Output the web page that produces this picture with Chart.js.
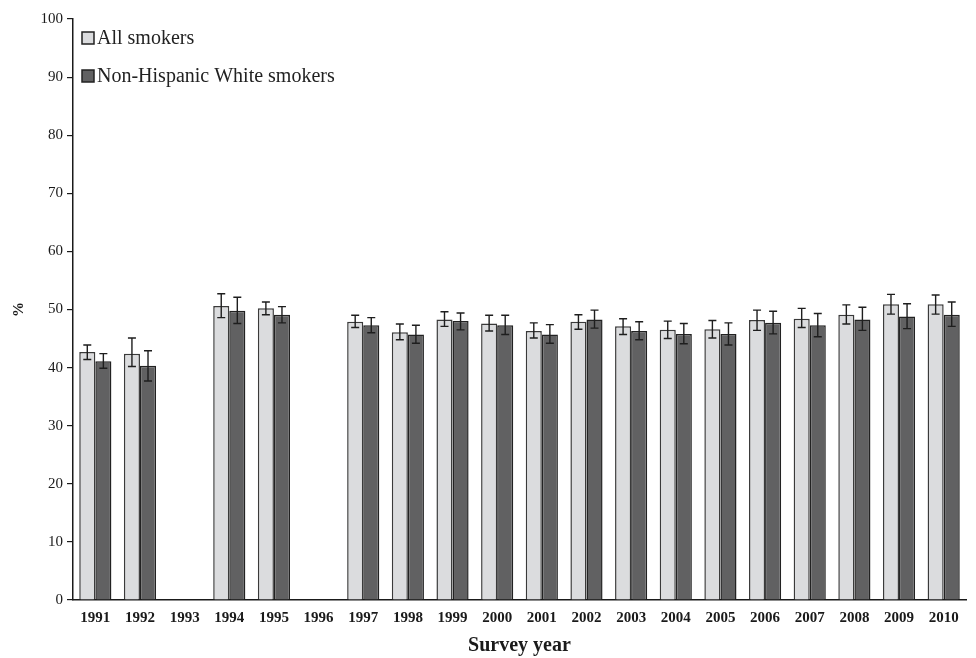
<!DOCTYPE html>
<html>
<head>
<meta charset="utf-8">
<script src="https://cdn.jsdelivr.net/npm/chart.js@4"></script>
<style>
  html, body { margin: 0; padding: 0; background: #ffffff; }
  #wrap { width: 976px; height: 658px; }
</style>
</head>
<body>
<div id="wrap"><canvas id="c" width="976" height="658"></canvas></div>
<script>
const years = ['1991','1992','1993','1994','1995','1996','1997','1998','1999','2000','2001','2002','2003','2004','2005','2006','2007','2008','2009','2010'];
const allSmokers = [42.7, 42.4, null, 50.6, 50.2, null, 47.9, 46.1, 48.3, 47.6, 46.3, 47.9, 47.1, 46.5, 46.6, 48.2, 48.4, 49.1, 50.9, 50.9];
const allLower   = [41.4, 40.2, null, 48.6, 49.1, null, 46.9, 44.8, 47.1, 46.3, 45.1, 46.6, 45.7, 45.0, 45.1, 46.4, 46.9, 47.5, 49.2, 49.2];
const allUpper   = [43.9, 45.1, null, 52.7, 51.3, null, 49.0, 47.5, 49.6, 49.0, 47.7, 49.1, 48.4, 48.0, 48.1, 49.9, 50.2, 50.8, 52.6, 52.5];
const nhwSmokers = [41.1, 40.3, null, 49.8, 49.1, null, 47.3, 45.7, 48.0, 47.3, 45.7, 48.3, 46.3, 45.8, 45.8, 47.7, 47.3, 48.3, 48.8, 49.1];
const nhwLower   = [39.9, 37.7, null, 47.6, 47.7, null, 46.0, 44.2, 46.5, 45.7, 44.2, 46.8, 44.8, 44.1, 43.9, 45.8, 45.3, 46.4, 46.7, 47.1];
const nhwUpper   = [42.4, 42.9, null, 52.1, 50.5, null, 48.6, 47.3, 49.4, 49.0, 47.4, 49.9, 47.9, 47.6, 47.7, 49.7, 49.3, 50.4, 51.0, 51.3];
const yTicks = [0, 10, 20, 30, 40, 50, 60, 70, 80, 90, 100];
const seriesLabels = ['All smokers', 'Non-Hispanic White smokers'];

const errorBars = {
  id: 'errorBars',
  afterDatasetsDraw(chart) {
    const ctx = chart.ctx;
    const ys = chart.scales.y;
    chart.data.datasets.forEach((ds, di) => {
      const meta = chart.getDatasetMeta(di);
      meta.data.forEach((bar, i) => {
        const lo = ds.errLower[i], hi = ds.errUpper[i];
        if (lo == null || hi == null) return;
        const x = bar.x;
        const y1 = ys.getPixelForValue(lo), y2 = ys.getPixelForValue(hi);
        ctx.save();
        ctx.strokeStyle = '#1e1e1e';
        ctx.lineWidth = 1.4;
        ctx.beginPath();
        ctx.moveTo(x, y1); ctx.lineTo(x, y2);
        ctx.moveTo(x - 4, y1); ctx.lineTo(x + 4, y1);
        ctx.moveTo(x - 4, y2); ctx.lineTo(x + 4, y2);
        ctx.stroke();
        ctx.restore();
      });
    });
  }
};

const customLegend = {
  id: 'customLegend',
  afterDraw(chart) {
    const ctx = chart.ctx;
    const left = chart.chartArea.left + 9;
    const rows = [38, 76];
    chart.data.datasets.forEach((ds, di) => {
      const cy = rows[di];
      ctx.save();
      ctx.fillStyle = ds.backgroundColor;
      ctx.strokeStyle = '#222222';
      ctx.lineWidth = 1.5;
      ctx.fillRect(left, cy - 6, 12, 12);
      ctx.strokeRect(left, cy - 6, 12, 12);
      ctx.fillStyle = '#222222';
      ctx.font = '20px "Liberation Serif", "Times New Roman", serif';
      ctx.textBaseline = 'middle';
      ctx.textAlign = 'left';
      ctx.fillText(ds.label, left + 15, cy + 1);
      ctx.restore();
    });
  }
};

new Chart(document.getElementById('c'), {
  type: 'bar',
  data: {
    labels: years,
    datasets: [
      { label: seriesLabels[0], data: allSmokers, errLower: allLower, errUpper: allUpper,
        backgroundColor: '#dbdcde', borderColor: '#3a3a3a', borderWidth: 1.5,
        categoryPercentage: 0.72, barPercentage: 1.0 },
      { label: seriesLabels[1], data: nhwSmokers, errLower: nhwLower, errUpper: nhwUpper,
        backgroundColor: '#616162', borderColor: '#222222', borderWidth: 1.5,
        categoryPercentage: 0.72, barPercentage: 1.0 }
    ]
  },
  options: {
    responsive: false,
    animation: false,
    events: [],
    layout: { padding: { top: 19, right: 10, left: 0, bottom: 0 } },
    plugins: { legend: { display: false }, tooltip: { enabled: false } },
    scales: {
      x: {
        grid: { display: false, drawTicks: false },
        border: { display: true, color: '#1a1a1a', width: 1.5 },
        ticks: {
          color: '#1a1a1a', padding: 9, maxRotation: 0, autoSkip: false,
          font: { family: '"Liberation Serif", "Times New Roman", serif', size: 15, weight: 'bold' }
        },
        title: {
          display: true, text: 'Survey year', color: '#1a1a1a',
          padding: { top: 0, bottom: 0 },
          font: { family: '"Liberation Serif", "Times New Roman", serif', size: 20, weight: 'bold' }
        },
        afterFit(scale) { scale.height = 58; }
      },
      y: {
        min: 0, max: 100,
        afterBuildTicks(scale) { scale.ticks = yTicks.map(v => ({ value: v })); },
        grid: { display: true, drawOnChartArea: false, drawTicks: true, tickLength: 6, color: '#1a1a1a', lineWidth: 1.2 },
        border: { display: true, color: '#1a1a1a', width: 1.5 },
        ticks: {
          color: '#1a1a1a', padding: 4,
          font: { family: '"Liberation Serif", "Times New Roman", serif', size: 15 }
        },
        title: {
          display: true, text: '%', color: '#1a1a1a',
          padding: { top: 10, bottom: 0 },
          font: { family: '"Liberation Serif", "Times New Roman", serif', size: 15, weight: 'bold' }
        },
        afterFit(scale) { scale.width = 73; }
      }
    }
  },
  plugins: [errorBars, customLegend]
});
</script>
</body>
</html>
